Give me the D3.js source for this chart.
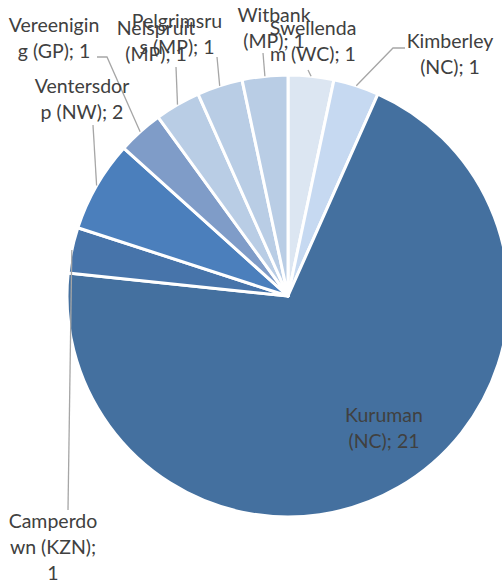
<!DOCTYPE html>
<html>
<head>
<meta charset="utf-8">
<script src="https://cdn.jsdelivr.net/npm/d3@7"></script>
<style>
  html, body { margin: 0; padding: 0; background: #fff; }
  svg text { font-family: Lato, "Open Sans", sans-serif; fill: #404040; }
</style>
</head>
<body>
<svg id="chart" width="502" height="587"></svg>
<script>
"use strict";

// slices in clockwise order from 12 o'clock
var towns = ["Swellendam (WC)", "Kimberley (NC)", "Kuruman (NC)", "Camperdown (KZN)",
  "Ventersdorp (NW)", "Vereeniging (GP)", "Nelspruit (MP)", "Pelgrimsrus (MP)", "Witbank (MP)"];
var counts = [1, 1, 21, 1, 2, 1, 1, 1, 1];
var colours = ["#dce6f2", "#c6d9f1", "#44709f", "#4774aa", "#4b7fbc", "#7f9cc8", "#b9cde5", "#b9cde5", "#b9cde5"];

// label text lines (wrapped the way the reference wraps them)
var labelLines = [
  ["Swellenda", "m (WC); 1"],
  ["Kimberley", "(NC); 1"],
  ["Kuruman", "(NC); 21"],
  ["Camperdo", "wn (KZN);", "1"],
  ["Ventersdor", "p (NW); 2"],
  ["Vereenigin", "g (GP); 1"],
  ["Nelspruit", "(MP); 1"],
  ["Pelgrimsru", "s (MP); 1"],
  ["Witbank", "(MP); 1"]
];

// layout: label centre (first baseline) and leader start
var labelLayout = [
  { x: 313, y: 35, lead: [[308, 70]] },
  { x: 450, y: 48, lead: [[405, 48], [393, 48]] },
  { x: 384, y: 422, lead: null },
  { x: 53, y: 528, lead: [[68, 510]] },
  { x: 82, y: 93, lead: [[93, 125]] },
  { x: 54, y: 32, lead: [[97, 57], [107, 57]] },
  { x: 156, y: 35, lead: [[176, 67]] },
  { x: 177, y: 28, lead: [[217, 57]] },
  { x: 274, y: 22, lead: [[263, 53]] }
];

var App = {
  svg: d3.select('#chart'),
  cx: 288,
  cy: 296,
  r: 221,

  draw: function () {
    var pie = d3.pie().sort(null).value(function (d) { return d; });
    var arcs = pie(counts);
    var arc = d3.arc().innerRadius(0).outerRadius(App.r);

    var g = App.svg.append('g')
      .attr('transform', 'translate(' + App.cx + ',' + App.cy + ')');

    g.selectAll('path.slice')
      .data(arcs)
      .enter().append('path')
      .attr('class', 'slice')
      .attr('d', arc)
      .attr('fill', function (d, i) { return colours[i]; })
      .attr('stroke', '#fff')
      .attr('stroke-width', 3)
      .attr('stroke-linejoin', 'round');

    // leader lines
    var line = d3.line();
    arcs.forEach(function (d, i) {
      var lay = labelLayout[i];
      if (!lay.lead) return;
      var mid = (d.startAngle + d.endAngle) / 2;
      var end = [App.cx + App.r * Math.sin(mid), App.cy - App.r * Math.cos(mid)];
      App.svg.append('path')
        .attr('d', line(lay.lead.concat([end])))
        .attr('fill', 'none')
        .attr('stroke', '#a6a6a6')
        .attr('stroke-width', 1.3);
    });

    // labels
    labelLines.forEach(function (lines, i) {
      var lay = labelLayout[i];
      var t = App.svg.append('text')
        .attr('text-anchor', 'middle')
        .attr('font-size', '19.5px');
      lines.forEach(function (s, k) {
        t.append('tspan')
          .attr('x', lay.x)
          .attr('y', lay.y + k * 26)
          .text(s);
      });
    });
  }
};

App.draw();
</script>
</body>
</html>
